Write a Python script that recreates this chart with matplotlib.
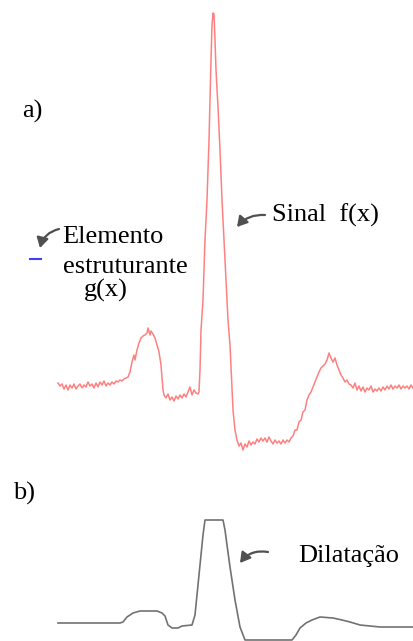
import matplotlib
matplotlib.use("Agg")
import matplotlib.pyplot as plt
from matplotlib.patches import FancyArrowPatch

# ---- data (vertical axis points downward) ----
f_x = [58, 60, 62, 64, 66, 68, 70, 72, 74, 76, 78, 80, 82, 84, 86, 88, 90, 92, 94, 96,
       98, 100, 102, 104, 106, 108, 110, 112, 114, 116, 118, 120, 122, 124, 126, 128,
       130, 132, 134, 135, 137, 139, 141, 143, 145, 147, 148, 150, 151, 153, 155, 157,
       159, 161, 162, 163, 164, 166, 168, 170, 172, 174, 176, 178, 180, 182, 184, 186,
       188, 190, 192, 194, 196, 198, 199, 200, 201, 203, 205, 207, 209, 211, 212, 213,
       214, 215, 216, 218, 220, 222, 224, 226, 228, 230, 232, 233, 235, 237,
       239, 241, 243, 245, 247, 249, 251, 253, 255, 257, 259, 261, 263, 265, 267, 269,
       271, 273, 275, 277, 279, 281, 283, 285, 287, 289, 291, 293, 295, 297, 299, 301,
       303, 305, 307, 309, 311, 313, 315, 317, 319, 321, 323, 325, 327, 329, 331, 333,
       335, 337, 339, 341, 343, 345, 347, 349, 351, 353, 355, 357, 359, 361, 363, 365,
       367, 369, 371, 373, 375, 377, 379, 381, 383, 385, 387, 389, 391, 393, 395, 397,
       399, 401, 403, 405, 407, 409, 411, 413]
f_y = [383, 386, 384, 389, 385, 390, 385, 388, 384, 389, 386, 384, 388, 385, 387, 382,
       386, 384, 388, 383, 387, 382, 385, 381, 386, 383, 385, 382, 384, 381, 382, 380,
       381, 379, 378, 377, 372, 362, 355, 360, 350, 343, 338, 336, 335, 333, 328, 335,
       331, 334, 338, 345, 352, 365, 378, 390, 395, 398, 394, 400, 397, 401, 396, 399,
       395, 398, 394, 397, 392, 387, 395, 390, 393, 394, 392, 370, 330, 300, 240, 200,
       140, 60, 25, 13, 14, 40, 70, 107, 150, 200, 240, 280, 320, 345, 390, 410, 430, 440,
       446, 443, 450, 444, 447, 441, 445, 442, 444, 439, 442, 438, 441, 438, 442, 437,
       441, 444, 440, 443, 441, 444, 440, 443, 440, 442, 438, 436, 430, 430, 422, 420,
       412, 410, 400, 395, 392, 387, 382, 377, 372, 368, 366, 364, 360, 353, 358, 362,
       358, 365, 370, 375, 378, 382, 380, 384, 385, 388, 383, 390, 386, 391, 387, 392,
       388, 390, 386, 392, 389, 391, 388, 391, 387, 390, 386, 389, 385, 389, 386, 388,
       385, 389, 386, 388, 386, 389, 385, 388]

d_x = [58, 120, 123, 127, 133, 140, 157, 162, 165, 168, 172, 178, 182, 192, 195, 198,
       201, 203, 205, 223, 225, 227, 230, 235, 240, 245, 292, 296, 300, 306, 312, 320,
       333, 342, 350, 360, 380, 414]
d_y = [623, 623, 622, 617, 613, 611, 611, 613, 616, 625, 628, 628, 626, 625, 615, 585,
       555, 535, 520, 520, 530, 545, 567, 600, 627, 640, 640, 635, 628, 623, 620, 617,
       618, 620, 622, 625, 627, 627]

g_x = [30, 41]
g_y = [259, 259]

labels = ["a)", "b)", "Sinal  f(x)", "Elemento", "estruturante", "g(x)", "Dilatação"]

# ---- figure ----
fig = plt.figure(figsize=(4.14, 6.41), dpi=100)
ax = fig.add_axes([0, 0, 1, 1])
ax.set_xlim(0, 414)
ax.set_ylim(641, 0)
ax.axis("off")

ax.plot(f_x, f_y, color="#ff8080", lw=1.1, solid_joinstyle="round")
ax.plot(d_x, d_y, color="#727272", lw=1.2, solid_joinstyle="round")
ax.plot(g_x, g_y, color="#4040ff", lw=1.5)

font = dict(family="Liberation Serif", fontsize=19, color="black", va="baseline", ha="left")
ax.text(22, 118, labels[0], **font)
ax.text(13, 500, labels[1], **font)
ax.text(272, 222, labels[2], **font)
ax.text(62, 243, labels[3], **font)
ax.text(63, 273, labels[4], **font)
ax.text(84, 297, labels[5], **font)
ax.text(298, 562, labels[6], **font)

def arrow(tail, tip, rad):
    a = FancyArrowPatch(tail, tip, connectionstyle=f"arc3,rad={rad}",
                        arrowstyle="-|>,head_length=6,head_width=3.5",
                        color="#505050", lw=1.6, shrinkA=0, shrinkB=0)
    ax.add_patch(a)

arrow((265, 215), (237, 227), 0.25)
arrow((59, 229), (40, 248), 0.3)
arrow((268, 552), (240, 563), 0.3)

fig.savefig("out.png", dpi=100)
